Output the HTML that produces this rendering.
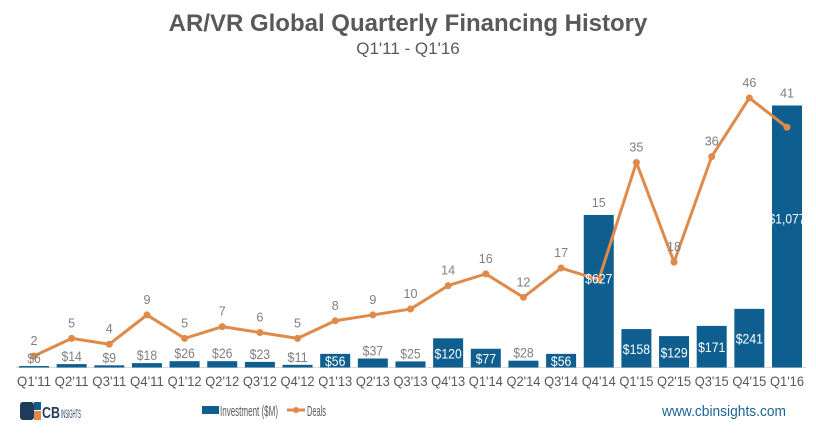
<!DOCTYPE html>
<html><head><meta charset="utf-8"><style>
body{margin:0;background:#fff;width:816px;height:432px;overflow:hidden;font-family:"Liberation Sans",sans-serif}
</style></head><body>
<svg width="816" height="432" xmlns="http://www.w3.org/2000/svg">
<text x="408" y="31" text-anchor="middle" font-weight="bold" font-size="24" fill="#595959">AR/VR Global Quarterly Financing History</text>
<text x="408" y="54" text-anchor="middle" font-size="17" fill="#595959">Q1'11 - Q1'16</text>
<line x1="16" y1="367.5" x2="806" y2="367.5" stroke="#d9d9d9"/>
<g id="bars"></g><g id="line"></g><g id="labels"></g>
<g>
<rect x="202" y="406" width="17" height="8" fill="#0e5f8f"/>
<text x="220" y="416" font-size="15" fill="#595959" textLength="58" lengthAdjust="spacingAndGlyphs">Investment ($M)</text>
<line x1="287" y1="410" x2="305" y2="410" stroke="#e08a4a" stroke-width="3"/>
<circle cx="296" cy="410" r="3" fill="#e08a4a"/>
<text x="307" y="416" font-size="15" fill="#595959" textLength="19" lengthAdjust="spacingAndGlyphs">Deals</text>
</g>
<g>
<rect x="20" y="402" width="14" height="18" rx="3" fill="#1d3c5c"/>
<rect x="34" y="402" width="7" height="8" fill="#0e5f8f"/>
<rect x="34" y="411" width="7" height="9" fill="#e08a4a"/>
<text x="42" y="418" font-weight="bold" font-size="16" fill="#1d3c5c" textLength="18" lengthAdjust="spacingAndGlyphs">CB</text>
<text x="61" y="418" font-size="12" fill="#1d3c5c" textLength="20" lengthAdjust="spacingAndGlyphs">INSIGHTS</text>
</g>
<text x="662" y="416" font-size="15" fill="#1a6496" textLength="124" lengthAdjust="spacingAndGlyphs">www.cbinsights.com</text>
</svg>
<script>
const categories=["Q1'11","Q2'11","Q3'11","Q4'11","Q1'12","Q2'12","Q3'12","Q4'12","Q1'13","Q2'13","Q3'13","Q4'13","Q1'14","Q2'14","Q3'14","Q4'14","Q1'15","Q2'15","Q3'15","Q4'15","Q1'16"];
const investment=[6,14,9,18,26,26,23,11,56,37,25,120,77,28,56,627,158,129,171,241,1077];
const investmentLabels=["$6","$14","$9","$18","$26","$26","$23","$11","$56","$37","$25","$120","$77","$28","$56","$627","$158","$129","$171","$241","$1,077"];
const deals=[2,5,4,9,5,7,6,5,8,9,10,14,16,12,17,15,35,18,36,46,41];
const NS="http://www.w3.org/2000/svg";
const x=i=>34+i*37.65;
const yInv=v=>367.5-v*0.2433;
const yDeal=v=>367.7-v*5.864;
function mk(t,a){const e=document.createElementNS(NS,t);for(const k in a)e.setAttribute(k,a[k]);return e;}
const gB=document.getElementById('bars'),gL=document.getElementById('line'),gT=document.getElementById('labels');
categories.forEach((c,i)=>{
 const v=investment[i],top=yInv(v),h=367.5-top;
 const r=mk('rect',{x:x(i)-15,y:top,width:30,height:h,fill:'#0e5f8f'});
 
 
 gB.appendChild(r);
 const inside=h>12;
 const ty=v>500?top+h*0.45:(inside?top+h/2+5.5:top-3);
 const lab=investmentLabels[i];
 let w=0;for(const ch of lab)w+=ch===','?3:6.8;
 const t=mk('text',{x:x(i),y:ty,'text-anchor':'middle','font-size':14,fill:inside?'#fff':'#7f7f7f',textLength:w,lengthAdjust:'spacingAndGlyphs'});
 t.textContent=lab;
 
 
 gT.appendChild(t);
 const xl=mk('text',{x:x(i),y:386,'text-anchor':'middle','font-size':14,fill:'#595959',textLength:34,lengthAdjust:'spacingAndGlyphs'});
 xl.textContent=c;
 
 
 gT.appendChild(xl);
});
const p=mk('polyline',{points:deals.map((d,i)=>x(i)+','+yDeal(d)).join(' '),fill:'none',stroke:'#e08a4a','stroke-width':3,'stroke-linejoin':'round'});


gL.appendChild(p);
deals.forEach((d,i)=>{
 const c=mk('circle',{cx:x(i),cy:yDeal(d),r:3.5,fill:'#e08a4a'});
 
 
 gL.appendChild(c);
 let ly=yDeal(d)-11;
 const bt=yInv(investment[i]);
 if(bt<yDeal(d)+20&&bt<ly+14) ly=Math.min(ly,bt-8);
 const t=mk('text',{x:x(i),y:ly,'text-anchor':'middle','font-size':13,fill:'#7f7f7f',textLength:String(d).length*7,lengthAdjust:'spacingAndGlyphs'});
 t.textContent=d;
 
 
 gT.appendChild(t);
});
</script>
</body></html>
